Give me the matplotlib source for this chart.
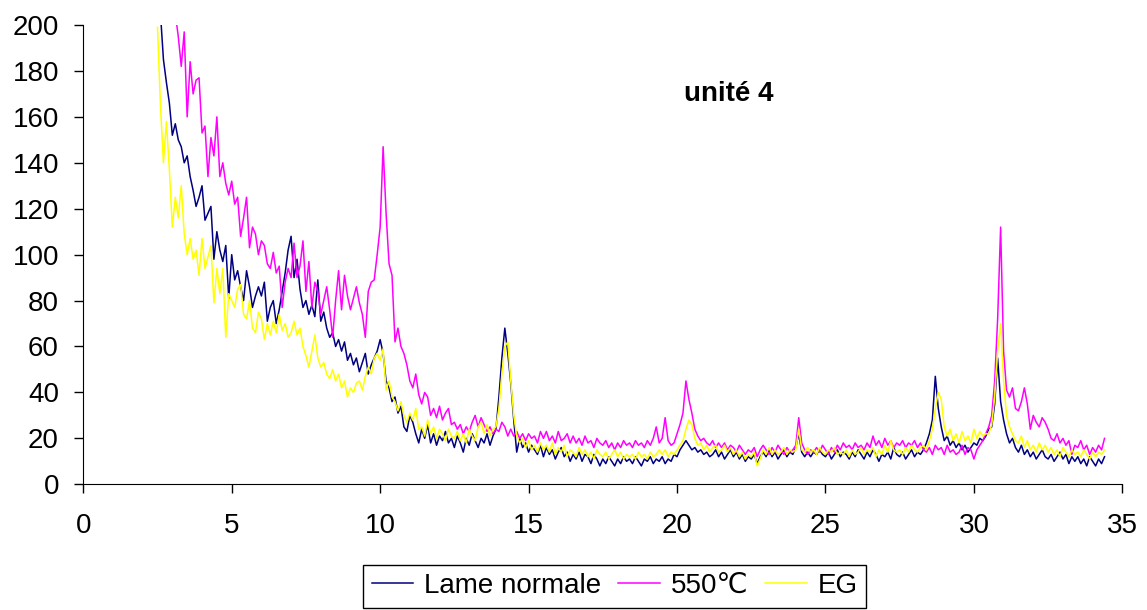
import numpy as np
import matplotlib
matplotlib.use('Agg')
import matplotlib.pyplot as plt

plt.rcParams['font.family'] = ['Liberation Sans', 'DejaVu Sans']

# 2-theta grid, 0.1 step from 2.5 to 34.4 (one row below = one degree)
angle = np.linspace(2.5, 34.4, 320)

lame_normale = [
    225, 205, 185, 175, 166, 152, 157, 150, 147, 140,   # 2.5
    143, 134, 128, 121, 125, 130, 115, 118, 121, 98,    # 3.5
    110, 102, 97, 104, 81, 100, 89, 93, 86, 80,         # 4.5
    93, 86, 77, 82, 86, 82, 88, 71, 77, 80,             # 5.5
    70, 76, 84, 92, 102, 108, 90, 98, 85, 77,           # 6.5
    80, 74, 78, 73, 89, 71, 75, 68, 64, 66,             # 7.5
    60, 63, 58, 62, 54, 57, 52, 55, 49, 53,             # 8.5
    57, 48, 52, 55, 58, 63, 57, 45, 42, 36,             # 9.5
    38, 31, 34, 25, 23, 30, 27, 22, 18, 24,             # 10.5
    20, 26, 18, 22, 17, 21, 19, 23, 18, 20,             # 11.5
    16, 21, 18, 14, 20, 17, 22, 19, 16, 20,             # 12.5
    18, 22, 17, 21, 24, 38, 55, 68, 57, 44,             # 13.5
    28, 14, 20, 16, 18, 14, 17, 15, 13, 17,             # 14.5
    12, 16, 13, 15, 11, 14, 16, 12, 14, 10,             # 15.5
    13, 11, 14, 10, 13, 12, 9, 13, 11, 8,               # 16.5
    11, 9, 12, 10, 8, 11, 9, 12, 10, 11,                # 17.5
    9, 12, 10, 8, 11, 10, 12, 9, 11, 10,                # 18.5
    12, 9, 11, 10, 13, 12, 15, 17, 19, 17,              # 19.5
    15, 16, 14, 15, 13, 14, 12, 13, 15, 12,             # 20.5
    14, 11, 13, 15, 12, 14, 11, 13, 10, 12,             # 21.5
    11, 13, 9, 12, 14, 12, 15, 12, 14, 11,              # 22.5
    13, 15, 12, 14, 13, 16, 22, 14, 12, 14,             # 23.5
    12, 14, 13, 15, 13, 12, 14, 11, 13, 15,             # 24.5
    12, 14, 13, 11, 14, 12, 15, 13, 11, 14,             # 25.5
    12, 15, 13, 10, 13, 12, 14, 11, 16, 13,             # 26.5
    12, 14, 11, 13, 15, 12, 14, 13, 15, 18,             # 27.5
    22, 28, 47, 33, 25, 19, 21, 17, 19, 16,             # 28.5
    18, 15, 17, 14, 16, 18, 17, 20, 19, 21,             # 29.5
    24, 25, 35, 55, 36, 28, 22, 18, 20, 16,             # 30.5
    14, 17, 13, 15, 12, 14, 11, 13, 15, 12,             # 31.5
    11, 13, 10, 12, 14, 11, 13, 9, 12, 10,              # 32.5
    12, 9, 11, 8, 12, 10, 8, 11, 9, 12,                 # 33.5
]

c550 = [
    290, 270, 255, 240, 228, 215, 205, 195, 182, 197,   # 2.5
    160, 184, 170, 176, 177, 153, 156, 134, 151, 143,   # 3.5
    160, 134, 140, 131, 126, 132, 122, 125, 108, 116,   # 4.5
    125, 103, 112, 109, 100, 106, 104, 96, 94, 101,     # 5.5
    92, 95, 77, 88, 94, 90, 105, 90, 95, 106,           # 6.5
    84, 97, 77, 88, 84, 74, 80, 86, 76, 64,             # 7.5
    80, 93, 76, 91, 82, 76, 81, 86, 79, 74,             # 8.5
    64, 84, 88, 89, 100, 112, 147, 118, 96, 91,         # 9.5
    62, 68, 60, 57, 52, 45, 42, 48, 39, 35,             # 10.5
    40, 38, 30, 33, 29, 34, 28, 31, 33, 26,             # 11.5
    27, 24, 26, 22, 25, 23, 27, 30, 25, 29,             # 12.5
    26, 23, 25, 22, 24, 23, 27, 25, 21, 24,             # 13.5
    21, 23, 20, 22, 19, 22, 20, 21, 18, 23,             # 14.5
    20, 23, 19, 21, 18, 23, 19, 20, 22, 18,             # 15.5
    21, 18, 20, 17, 21, 18, 19, 16, 20, 18,             # 16.5
    17, 19, 16, 18, 15, 18, 16, 19, 17, 18,             # 17.5
    16, 19, 17, 18, 16, 19, 17, 20, 25, 18,             # 18.5
    20, 29, 19, 17, 18, 22, 26, 31, 45, 37,             # 19.5
    31, 24, 21, 19, 20, 18, 17, 19, 16, 18,             # 20.5
    16, 18, 15, 17, 16, 14, 17, 15, 13, 15,             # 21.5
    14, 16, 12, 15, 17, 15, 13, 16, 14, 17,             # 22.5
    15, 13, 16, 14, 15, 17, 29, 18, 15, 13,             # 23.5
    15, 14, 16, 14, 17, 15, 13, 16, 14, 17,             # 24.5
    15, 18, 16, 17, 15, 18, 16, 17, 15, 18,             # 25.5
    16, 21, 17, 19, 16, 20, 17, 19, 16, 18,             # 26.5
    17, 19, 16, 18, 17, 19, 16, 18, 15, 14,             # 27.5
    16, 13, 17, 15, 16, 13, 17, 14, 15, 13,             # 28.5
    14, 17, 13, 16, 15, 11, 15, 17, 19, 22,             # 29.5
    25, 30, 45, 72, 112, 58, 41, 38, 42, 33,            # 30.5
    32, 36, 42, 35, 24, 30, 27, 25, 29, 27,             # 31.5
    24, 20, 19, 22, 18, 20, 17, 19, 13, 17,             # 32.5
    16, 19, 15, 17, 13, 16, 14, 17, 15, 20,             # 33.5
]

eg = [
    199, 165, 140, 158, 137, 112, 125, 116, 130, 109,   # 2.5
    100, 107, 98, 102, 91, 107, 94, 99, 104, 79,        # 3.5
    94, 83, 94, 64, 83, 80, 77, 85, 87, 74,             # 4.5
    72, 80, 68, 66, 75, 72, 63, 70, 65, 71,             # 5.5
    66, 74, 67, 70, 64, 66, 71, 65, 68, 60,             # 6.5
    56, 51, 58, 65, 55, 51, 53, 48, 46, 50,             # 7.5
    45, 48, 42, 45, 38, 42, 40, 44, 45, 41,             # 8.5
    47, 51, 48, 55, 57, 54, 59, 41, 45, 38,             # 9.5
    36, 32, 36, 30, 27, 31, 28, 33, 24, 25,             # 10.5
    21, 28, 22, 25, 20, 24, 22, 19, 24, 21,             # 11.5
    20, 23, 19, 22, 18, 24, 21, 19, 25, 27,             # 12.5
    22, 26, 21, 24, 25, 33, 48, 60, 62, 45,             # 13.5
    30, 21, 18, 20, 16, 19, 15, 17, 14, 18,             # 14.5
    15, 17, 14, 18, 13, 16, 14, 17, 12, 15,             # 15.5
    14, 12, 16, 13, 15, 12, 14, 11, 15, 13,             # 16.5
    12, 14, 11, 13, 15, 12, 14, 11, 13, 12,             # 17.5
    13, 11, 14, 12, 13, 11, 14, 12, 13, 15,             # 18.5
    13, 15, 12, 14, 13, 15, 17, 19, 24, 28,             # 19.5
    26, 20, 17, 18, 15, 17, 14, 16, 17, 14,             # 20.5
    15, 17, 14, 16, 13, 15, 12, 14, 11, 13,             # 21.5
    12, 14, 8, 11, 15, 13, 16, 13, 15, 13,              # 22.5
    14, 16, 13, 15, 14, 15, 24, 15, 14, 16,             # 23.5
    14, 15, 13, 16, 14, 13, 15, 14, 16, 13,             # 24.5
    14, 13, 15, 12, 15, 13, 14, 16, 13, 15,             # 25.5
    14, 16, 12, 15, 13, 17, 14, 19, 15, 14,             # 26.5
    15, 13, 16, 14, 17, 15, 14, 16, 17, 15,             # 27.5
    19, 24, 33, 40, 37, 25, 21, 24, 19, 22,             # 28.5
    18, 23, 19, 21, 18, 24, 20, 23, 21, 22,             # 29.5
    22, 26, 38, 58, 70, 45, 30, 25, 22, 19,             # 30.5
    18, 21, 16, 19, 15, 17, 14, 18, 15, 17,             # 31.5
    14, 16, 13, 15, 12, 16, 14, 12, 15, 13,             # 32.5
    14, 12, 15, 13, 11, 14, 12, 14, 13, 15,             # 33.5
]

fig = plt.figure(figsize=(11.47, 6.10), dpi=100)
ax = fig.add_axes([0.0726, 0.2061, 0.9059, 0.7529])

ax.plot(angle, lame_normale, color='#000080', linewidth=1.1, label='Lame normale')
ax.plot(angle, c550, color='#FF00FF', linewidth=1.1, label='550\u2103')
ax.plot(angle, eg, color='#FFFF00', linewidth=1.1, label='EG')

ax.set_xlim(0, 35)
ax.set_ylim(0, 200)
ax.set_xticks(range(0, 36, 5))
ax.set_yticks(range(0, 201, 20))
ax.tick_params(axis='both', labelsize=20, length=6.5, width=1, direction='out')
ax.tick_params(axis='y', pad=11)
ax.tick_params(axis='x', pad=14)
ax.spines['top'].set_visible(False)
ax.spines['right'].set_visible(False)

ax.text(21.75, 170, 'unité 4', fontsize=20, fontweight='bold', ha='center', va='center')

leg = fig.legend(loc='upper center', bbox_to_anchor=(0.536, 0.074), ncol=3, fontsize=20,
                 frameon=True, fancybox=False, framealpha=1, edgecolor='black',
                 handlelength=1.5, handletextpad=0.4, columnspacing=0.6, borderpad=0.3,
                 borderaxespad=0)
leg.get_frame().set_linewidth(1)

fig.savefig('out.png', dpi=100)
